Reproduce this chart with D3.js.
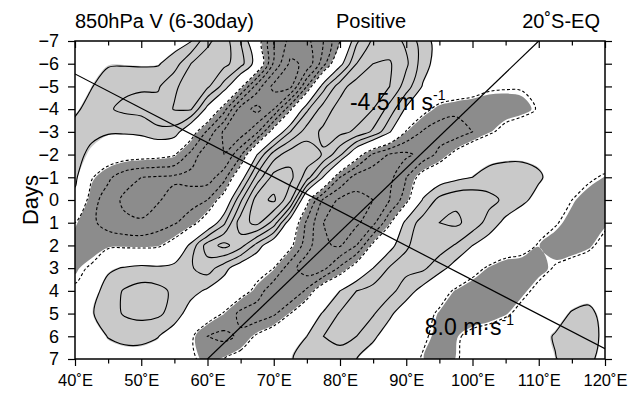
<!DOCTYPE html>
<html>
<head>
<meta charset="utf-8">
<script src="https://cdn.jsdelivr.net/npm/d3@7"></script>
<style>
  body { margin: 0; background: #fff; }
  svg { display: block; }
  text { font-family: "Liberation Sans", Arial, Helvetica, sans-serif; }
</style>
</head>
<body>
<div id="chart"></div>
<script>
// grid of the field, 2.5 deg x 1 day
const lons = [40, 42.5, 45, 47.5, 50, 52.5, 55, 57.5, 60, 62.5, 65, 67.5, 70, 72.5, 75, 77.5, 80,
  82.5, 85, 87.5, 90, 92.5, 95, 97.5, 100, 102.5, 105, 107.5, 110, 112.5, 115, 117.5, 120];
const days = [-7, -6, -5, -4, -3, -2, -1, 0, 1, 2, 3, 4, 5, 6, 7];

const vField = [
  [0.3, 0.3, 0.3, 0.2, 0.3, 0.35, 0.5, 0.95, 2.8, 3.5, 2.0, -0.3, -3.0, -4.3, -4.3, -3.0, -1.0, 1.8, 3.2, 3.5, 2.8, 1.5, 0.5, 0.2, 0.1, 0, 0, 0, 0, 0, 0, 0, 0],
  [0.4, 0.6, 0.9, 0.9, 0.85, 0.9, 1.5, 3.0, 3.5, 3.3, 2.4, 0.4, -3.2, -5.2, -4.8, -2.4, 0.6, 3.0, 4.0, 4.1, 3.2, 1.5, 0.4, 0.1, 0, 0, 0, 0, 0, 0, 0, 0, 0],
  [0.6, 0.95, 1.5, 1.8, 1.9, 1.85, 2.9, 3.3, 3.2, 1.6, -0.7, -3.5, -5.3, -5.3, -2.0, 1.6, 3.6, 4.5, 4.6, 4.0, 2.5, 0.9, 0.2, 0, -0.3, -0.8, -0.9, -0.9, -0.6, -0.2, 0, 0, 0],
  [0.8, 1.4, 1.9, 2.2, 2.3, 2.5, 3.05, 3.1, 0.6, -1.6, -4.5, -5.3, -4.0, -1.2, 1.8, 3.5, 4.4, 4.6, 4.0, 2.6, 0.8, -0.6, -1.4, -1.7, -1.8, -1.7, -1.6, -1.4, -0.9, -0.3, 0, 0, 0],
  [1.4, 1.15, 1.15, 1.15, 1.3, 1.8, 1.6, -0.3, -2.2, -4.2, -4.6, -3.2, -0.3, 2.0, 3.5, 4.2, 4.3, 3.8, 2.8, 1.1, -1.1, -2.1, -2.6, -2.6, -2.0, -1.2, -0.6, -0.2, 0.1, 0.1, 0, 0, 0],
  [1.2, 0.85, -0.2, -0.4, -0.5, -0.6, -0.9, -2.3, -3.8, -4.0, -2.2, 1.0, 3.5, 4.6, 4.7, 3.9, 2.2, -0.3, -2.2, -3.1, -3.2, -2.7, -1.7, -0.6, 0.3, 0.6, 0.7, 0.7, 0.6, 0.3, 0, -0.1, -0.2],
  [1.3, -0.9, -1.8, -2.6, -3.0, -3.1, -3.2, -3.4, -3.5, -2.4, 0.3, 3.4, 5.4, 5.3, 3.5, 0.9, -2.0, -3.5, -3.8, -3.3, -2.0, -0.4, 0.3, 0.7, 1.0, 1.4, 1.6, 1.6, 1.2, 0.4, -0.3, -0.8, -1.15],
  [0.6, -1.6, -2.5, -3.2, -3.4, -3.1, -2.6, -2.4, -2.0, -0.3, 2.8, 5.6, 6.2, 4.2, -0.6, -3.2, -4.2, -4.3, -4.0, -3.0, -1.4, 1.1, 2.3, 2.8, 2.8, 2.3, 1.8, 1.3, 0.5, -0.2, -1.0, -1.5, -1.6],
  [-1.0, -1.8, -2.4, -2.8, -2.9, -2.5, -2.1, -1.5, -0.2, 1.8, 4.6, 5.3, 3.6, 0.2, -2.2, -4.0, -4.5, -4.2, -3.3, -1.2, 1.4, 2.4, 3.0, 3.2, 2.6, 1.6, 0.7, 0, -0.5, -0.9, -1.4, -1.6, -1.3],
  [-1.5, -1.4, -1.3, -1.25, -1.3, -1.2, -0.5, 1.3, 3.5, 4.3, 3.4, 1.6, -0.1, -0.7, -2.6, -3.9, -4.1, -3.0, -0.7, 0.6, 1.9, 2.4, 2.5, 1.9, 1.0, 0.4, -0.1, -0.5, -1.1, -1.5, -1.7, -1.3, -0.5],
  [-1.2, -0.9, 0.8, 1.1, 1.3, 1.2, 1.4, 1.9, 2.5, 1.4, 0.2, -0.4, -1.0, -2.6, -3.6, -3.3, -1.8, -0.3, 1.0, 2.1, 2.3, 2.2, 1.4, 0.5, -0.5, -1.2, -1.7, -1.7, -1.4, -0.9, -0.4, -0.1, 0],
  [-0.9, 0.5, 1.5, 2.1, 2.4, 2.3, 1.8, 1.4, 0.8, 0.2, -0.4, -1.4, -2.8, -3.0, -1.8, 0.1, 1.0, 2.0, 2.4, 2.3, 1.5, 0.6, -0.4, -1.2, -1.7, -1.8, -1.6, -1.3, -0.7, -0.1, 0.3, 0.5, 0.3],
  [-0.4, 0.9, 1.6, 2.1, 2.3, 2.2, 1.6, 0.4, -0.3, -1.1, -2.3, -2.7, -2.2, -1.0, 0.3, 1.1, 2.1, 2.3, 2.1, 1.2, 0.3, -0.5, -1.2, -1.6, -1.8, -1.6, -1.2, -0.6, 0, 0.5, 1.1, 1.3, 0.6],
  [-0.2, 0.4, 1.05, 1.3, 1.3, 1.05, 0.3, -0.8, -2.0, -2.3, -1.8, -0.8, 0, 0.4, 1.0, 2.0, 2.2, 2.0, 1.2, 0.4, -0.2, -0.8, -1.4, -1.2, -0.6, -0.3, 0, 0.2, 0.6, 1.1, 1.6, 1.5, 0.7],
  [0, 0.2, 0.4, 0.5, 0.5, 0.3, -0.2, -0.8, -1.4, -1.0, -0.5, 0, 0.4, 0.9, 1.5, 1.9, 1.7, 1.0, 0.4, 0, -0.4, -1.1, -1.4, -1.1, -0.6, -0.3, 0, 0.2, 0.5, 0.95, 1.4, 1.3, 0.5]
];

const lonTicks = [40, 50, 60, 70, 80, 90, 100, 110, 120];
const lonMinor = [45, 55, 65, 75, 85, 95, 105, 115];
const dayTicks = [-7, -6, -5, -4, -3, -2, -1, 0, 1, 2, 3, 4, 5, 6, 7];
const posLevels = [1, 2, 3, 4, 5, 6];
const negLevels = [1, 2, 3, 4, 5, 6];   // magnitude of the dashed levels
const shadeLevels = { light: 0.95, dark: 1.12 };

// phase speed lines, end points in (lon, day)
const phaseLines = [
  { speed: "-4.5", unit: "m s",  from: [60, 7],     to: [110, -7],   at: [81.5, -3.95] },
  { speed: "8.0",  unit: "m\u00b7s", from: [40, -5.55], to: [120, 6.55], at: [92.8, 5.95] }
];

const titleLeft = "850hPa V (6-30day)";
const titleCenter = "Positive";
const titleRight = "20\u02daS-EQ";

const width = 628, height = 393;
const margin = { top: 41, right: 23, bottom: 34, left: 75 };

const x = d3.scaleLinear().domain([40, 120]).range([margin.left, width - margin.right]);
const y = d3.scaleLinear().domain([-7, 7]).range([margin.top, height - margin.bottom]);

const nx = lons.length, ny = days.length;
// d3.contours puts sample i at i + 0.5
const gx = d3.scaleLinear().domain([0.5, nx - 0.5]).range([lons[0], lons[nx - 1]]);
const gy = d3.scaleLinear().domain([0.5, ny - 0.5]).range([days[0], days[ny - 1]]);

const flat = vField.flat();
const negFlat = flat.map(v => -v);

const ringLine = d3.line()
  .x(p => x(gx(p[0])))
  .y(p => y(gy(p[1])))
  .curve(d3.curveCatmullRomClosed.alpha(0.5));

function geomPath(g) {
  return g.coordinates.map(poly =>
    poly.map(ring => ringLine(ring.slice(0, -1))).join("")
  ).join("");
}

const contours = d3.contours().size([nx, ny]);

const svg = d3.select("#chart").append("svg")
  .attr("width", width)
  .attr("height", height);

svg.append("rect").attr("width", width).attr("height", height).attr("fill", "#fff");

svg.append("clipPath").attr("id", "plot-clip")
  .append("rect")
  .attr("x", margin.left).attr("y", margin.top)
  .attr("width", width - margin.left - margin.right)
  .attr("height", height - margin.top - margin.bottom);

const plot = svg.append("g").attr("clip-path", "url(#plot-clip)");

// shading
plot.append("g").selectAll("path")
  .data(contours.thresholds([shadeLevels.light])(flat))
  .join("path")
  .attr("d", geomPath)
  .attr("fill", "#c9c9c9")
  .attr("fill-rule", "evenodd");

plot.append("g").selectAll("path")
  .data(contours.thresholds([shadeLevels.dark])(negFlat))
  .join("path")
  .attr("d", geomPath)
  .attr("fill", "#8c8c8c")
  .attr("fill-rule", "evenodd");

// contour lines
plot.append("g").selectAll("path")
  .data(contours.thresholds(posLevels)(flat))
  .join("path")
  .attr("d", geomPath)
  .attr("fill", "none")
  .attr("stroke", "#000")
  .attr("stroke-width", 1.1);

plot.append("g").selectAll("path")
  .data(contours.thresholds(negLevels)(negFlat))
  .join("path")
  .attr("d", geomPath)
  .attr("fill", "none")
  .attr("stroke", "#000")
  .attr("stroke-width", 1.1)
  .attr("stroke-dasharray", "3,2.2");

// phase lines
plot.append("g").selectAll("line")
  .data(phaseLines)
  .join("line")
  .attr("x1", d => x(d.from[0])).attr("y1", d => y(d.from[1]))
  .attr("x2", d => x(d.to[0])).attr("y2", d => y(d.to[1]))
  .attr("stroke", "#000")
  .attr("stroke-width", 1.2);

const lab = svg.append("g").selectAll("text")
  .data(phaseLines)
  .join("text")
  .attr("x", d => x(d.at[0]))
  .attr("y", d => y(d.at[1]))
  .attr("font-size", 23);
lab.append("tspan").text(d => d.speed + " " + d.unit);
lab.append("tspan").attr("dy", -10).attr("font-size", 14).text("-1");

// axes
function styleAxis(size) {
  return g => {
    g.select(".domain").remove();
    g.selectAll("line").attr("stroke", "#000").attr("stroke-width", 1.2);
    g.selectAll("text").attr("font-size", size).attr("fill", "#000")
      .attr("font-family", "'Liberation Sans', Arial, sans-serif");
  };
}

svg.append("g")
  .attr("transform", `translate(0,${height - margin.bottom})`)
  .call(d3.axisBottom(x).tickValues(lonTicks).tickSize(7).tickPadding(8).tickFormat(d => d + "\u02daE"))
  .call(styleAxis(16.5));
svg.append("g")
  .attr("transform", `translate(0,${height - margin.bottom})`)
  .call(d3.axisBottom(x).tickValues(lonMinor).tickSize(4.5).tickFormat(""))
  .call(styleAxis(16.5));

svg.append("g")
  .attr("transform", `translate(0,${margin.top})`)
  .call(d3.axisTop(x).tickValues(lonTicks).tickSize(-7).tickFormat(""))
  .call(styleAxis(16.5));
svg.append("g")
  .attr("transform", `translate(0,${margin.top})`)
  .call(d3.axisTop(x).tickValues(lonMinor).tickSize(-4.5).tickFormat(""))
  .call(styleAxis(16.5));

svg.append("g")
  .attr("transform", `translate(${margin.left},0)`)
  .call(d3.axisLeft(y).tickValues(dayTicks).tickSize(7).tickPadding(9).tickFormat(d3.format("d")))
  .call(styleAxis(18));

svg.append("g")
  .attr("transform", `translate(${width - margin.right},0)`)
  .call(d3.axisRight(y).tickValues(dayTicks).tickSize(7).tickFormat(""))
  .call(styleAxis(18));

svg.append("rect")
  .attr("x", margin.left).attr("y", margin.top)
  .attr("width", width - margin.left - margin.right)
  .attr("height", height - margin.top - margin.bottom)
  .attr("fill", "none")
  .attr("stroke", "#000")
  .attr("stroke-width", 1.5);

// titles
svg.append("text").attr("x", margin.left).attr("y", 28)
  .attr("font-size", 20).text(titleLeft);
svg.append("text").attr("x", 371).attr("y", 28)
  .attr("font-size", 20).attr("text-anchor", "middle").text(titleCenter);
svg.append("text").attr("x", 600).attr("y", 28)
  .attr("font-size", 20).attr("text-anchor", "end").text(titleRight);

svg.append("text")
  .attr("transform", `translate(38,${(margin.top + height - margin.bottom) / 2}) rotate(-90)`)
  .attr("text-anchor", "middle")
  .attr("font-size", 22)
  .text("Days");
</script>
</body>
</html>
